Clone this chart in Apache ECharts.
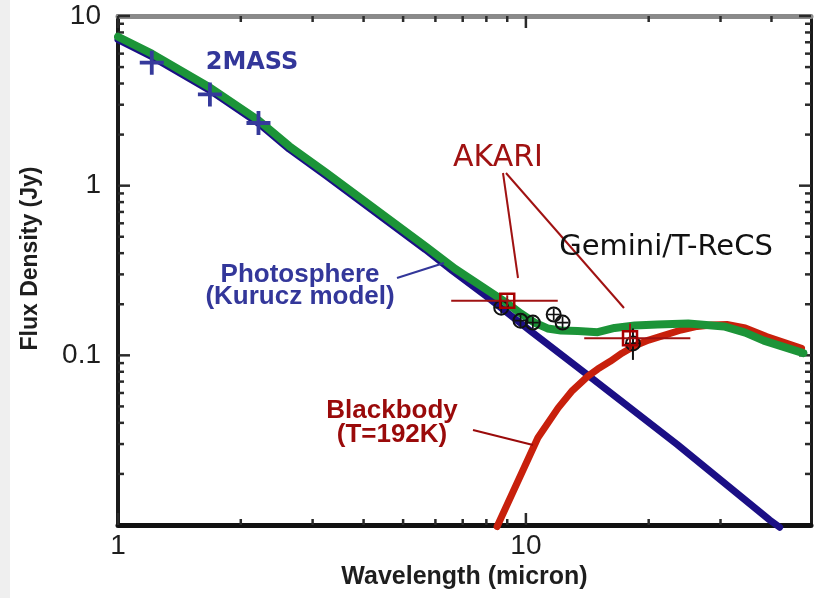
<!DOCTYPE html>
<html>
<head>
<meta charset="utf-8">
<script src="https://cdn.jsdelivr.net/npm/echarts@6/dist/echarts.min.js"></script>
<style>
  html, body { margin: 0; padding: 0; background: #fff; }
  #chart { width: 814px; height: 598px; }
</style>
</head>
<body>
<div id="chart"></div>
<script>
// Spectral energy distribution: wavelength (micron) vs flux density (Jy), log-log.

// Kurucz photosphere model
const photosphereModel = [
  [1.0, 7.25], [1.21, 5.76], [1.68, 3.64], [2.21, 2.33], [2.63, 1.64], [3.24, 1.14],
  [5.67, 0.42], [6.6, 0.315], [8.0, 0.223], [10.3, 0.138], [14.2, 0.0764],
  [23.5, 0.0298], [39.6, 0.0107], [41.9, 0.0097]
];
// Photosphere + 192 K blackbody
const totalModel = [
  [1.0, 7.55], [1.21, 6.0], [1.68, 3.79], [2.21, 2.43], [2.63, 1.71], [3.24, 1.19],
  [5.67, 0.44], [6.71, 0.323], [8.89, 0.207], [9.73, 0.176], [10.5, 0.156], [11.3, 0.144],
  [12.2, 0.140], [13.4, 0.139], [15.0, 0.137], [16.5, 0.145], [18.5, 0.150],
  [21.0, 0.152], [25.0, 0.154], [30.6, 0.148], [34.5, 0.136], [38.3, 0.122], [47.9, 0.103]
];
// Blackbody excess, T = 192 K
const blackbody192K = [
  [8.5, 0.0098], [10.7, 0.0327], [12.0, 0.049], [13.0, 0.062], [14.2, 0.0754], [15.0, 0.083],
  [16.1, 0.0922], [17.2, 0.103], [18.5, 0.114], [20.0, 0.123], [21.8, 0.131], [24.0, 0.141],
  [26.3, 0.148], [28.5, 0.151], [31.1, 0.152], [34.5, 0.145], [38.9, 0.129], [47.4, 0.110]
];

// Photometry
const twoMass = [[1.21, 5.31], [1.68, 3.45], [2.21, 2.34]];
const geminiTReCS = [[8.7, 0.191], [9.7, 0.160], [10.4, 0.156], [11.7, 0.174], [12.3, 0.156], [18.3, 0.1175]];
const geminiErrWave = [18.3];
const geminiErrFlux = [[0.094, 0.144]];
const akari = [[9.0, 0.21], [18.0, 0.126]];
const akariBand = [[6.56, 11.97], [13.9, 25.3]];
const akariFluxErr = [[0.195, 0.226], [0.107, 0.154]];

// Axis ticks and labels
const xTickLabels = [1, 10];
const yTickLabels = [0.1, 1, 10];
const xMajorTicks = [1, 10];
const xMinorTicks = [2, 3, 4, 5, 6, 7, 8, 9, 20, 30, 40];
const yMajorTicks = [0.1, 1, 10];
const yMinorTicks = [0.02, 0.03, 0.04, 0.05, 0.06, 0.07, 0.08, 0.09,
                     0.2, 0.3, 0.4, 0.5, 0.6, 0.7, 0.8, 0.9,
                     2, 3, 4, 5, 6, 7, 8, 9];

const GREEN = '#1c9438', NAVY = '#1b0f85', RED = '#c8200c';
const DARKRED = '#a01212', TEXTBLUE = '#33379a';

function matchTick(v, list) {
  return list.find(t => Math.abs(Math.log10(v) - Math.log10(t)) < 1e-6);
}

// Tick marks on all four sides of the frame, pointing inward
function xTickRenderer(len) {
  return function (params, api) {
    const cs = params.coordSys;
    const px = api.coord([api.value(0), 1])[0];
    const st = { stroke: '#2a2a2a', lineWidth: 2.5 };
    return { type: 'group', children: [
      { type: 'line', shape: { x1: px, y1: cs.y + cs.height, x2: px, y2: cs.y + cs.height - len }, style: st },
      { type: 'line', shape: { x1: px, y1: cs.y, x2: px, y2: cs.y + len }, style: st }
    ]};
  };
}
function yTickRenderer(len) {
  return function (params, api) {
    const cs = params.coordSys;
    const py = api.coord([1, api.value(1)])[1];
    const st = { stroke: '#2a2a2a', lineWidth: 2.5 };
    return { type: 'group', children: [
      { type: 'line', shape: { x1: cs.x, y1: py, x2: cs.x + len, y2: py }, style: st },
      { type: 'line', shape: { x1: cs.x + cs.width, y1: py, x2: cs.x + cs.width - len, y2: py }, style: st }
    ]};
  };
}
function errorBarRenderer(color) {
  return function (params, api) {
    const x = api.value(0), y = api.value(1);
    const l = api.coord([api.value(2), y]);
    const r = api.coord([api.value(3), y]);
    const lo = api.coord([x, api.value(4)]);
    const hi = api.coord([x, api.value(5)]);
    const st = { stroke: color, lineWidth: 2 };
    return { type: 'group', children: [
      { type: 'line', shape: { x1: l[0], y1: l[1], x2: r[0], y2: r[1] }, style: st },
      { type: 'line', shape: { x1: lo[0], y1: lo[1], x2: hi[0], y2: hi[1] }, style: st }
    ]};
  };
}

const akariErrData = akari.map((p, i) => [p[0], p[1], akariBand[i][0], akariBand[i][1], akariFluxErr[i][0], akariFluxErr[i][1]]);
const geminiErrData = geminiErrWave.map((w, i) => {
  const pt = geminiTReCS.find(p => p[0] === w);
  return [w, pt[1], w, w, geminiErrFlux[i][0], geminiErrFlux[i][1]];
});

const PLUS_THICK = 'path://M-1.9,-12H1.9V-1.9H12V1.9H1.9V12H-1.9V1.9H-12V-1.9H-1.9Z';
const PLUS_THIN = 'path://M-0.85,-6H0.85V-0.85H6V0.85H0.85V6H-0.85V0.85H-6V-0.85H-0.85Z';

const axisFont = { fontFamily: 'Liberation Sans', fontSize: 28, color: '#1e1e1e' };

const option = {
  animation: false,
  backgroundColor: '#ffffff',
  grid: { left: 118, right: 1, top: 16, bottom: 73, containLabel: false },
  xAxis: [
    {
      type: 'log', logBase: 10, min: 1, max: 50, position: 'bottom',
      name: 'Wavelength (micron)', nameLocation: 'middle', nameGap: 39,
      nameTextStyle: { fontFamily: 'Liberation Sans', fontSize: 25, fontWeight: 'bold', color: '#1e1e1e' },
      axisLine: { show: true, lineStyle: { color: '#111', width: 5 } },
      axisTick: { show: false }, splitLine: { show: false }, minorTick: { show: false },
      axisLabel: Object.assign({ margin: 7, formatter: v => { const t = matchTick(v, xTickLabels); return t !== undefined ? String(t) : ''; } }, axisFont)
    },
    {
      type: 'log', logBase: 10, min: 1, max: 50, position: 'top',
      axisLine: { show: true, lineStyle: { color: '#8a8a8a', width: 5 } },
      axisTick: { show: false }, axisLabel: { show: false }, splitLine: { show: false }
    }
  ],
  yAxis: [
    {
      type: 'log', logBase: 10, min: 0.01, max: 10, position: 'left',
      name: 'Flux Density (Jy)', nameLocation: 'middle', nameGap: 76, nameRotate: 90,
      nameTextStyle: { fontFamily: 'Liberation Sans', fontSize: 23, fontWeight: 'bold', color: '#1e1e1e', padding: [0, 0, 0, 24] },
      axisLine: { show: true, lineStyle: { color: '#1a1a1a', width: 4 } },
      axisTick: { show: false }, splitLine: { show: false },
      axisLabel: Object.assign({ margin: 17, formatter: v => { const t = matchTick(v, yTickLabels); return t !== undefined ? String(t) : ''; } }, axisFont)
    },
    {
      type: 'log', logBase: 10, min: 0.01, max: 10, position: 'right',
      axisLine: { show: true, lineStyle: { color: '#1a1a1a', width: 3 } },
      axisTick: { show: false }, axisLabel: { show: false }, splitLine: { show: false }
    }
  ],
  series: [
    { type: 'custom', name: 'x minor ticks', renderItem: xTickRenderer(6), data: xMinorTicks.map(v => [v, 1]), encode: { x: 0, y: 1 }, silent: true, z: 5 },
    { type: 'custom', name: 'x major ticks', renderItem: xTickRenderer(12), data: xMajorTicks.map(v => [v, 1]), encode: { x: 0, y: 1 }, silent: true, z: 5 },
    { type: 'custom', name: 'y minor ticks', renderItem: yTickRenderer(6), data: yMinorTicks.map(v => [1, v]), encode: { x: 0, y: 1 }, silent: true, z: 5 },
    { type: 'custom', name: 'y major ticks', renderItem: yTickRenderer(12), data: yMajorTicks.map(v => [1, v]), encode: { x: 0, y: 1 }, silent: true, z: 5 },

    { type: 'line', name: 'Photosphere', data: photosphereModel, showSymbol: false, smooth: false, clip: false,
      lineStyle: { color: NAVY, width: 7, cap: 'round', join: 'round' }, z: 6, silent: true },
    { type: 'line', name: 'Blackbody', data: blackbody192K, showSymbol: false, smooth: false, clip: false,
      lineStyle: { color: RED, width: 7, cap: 'round', join: 'round' }, z: 7, silent: true },
    { type: 'line', name: 'Total', data: totalModel, showSymbol: false, smooth: false,
      lineStyle: { color: GREEN, width: 8, cap: 'round', join: 'round' }, z: 8, silent: true },

    { type: 'scatter', name: '2MASS', data: twoMass, symbol: PLUS_THICK, symbolSize: 24,
      itemStyle: { color: '#35399b', opacity: 1 }, z: 10, silent: true },

    { type: 'custom', name: 'Gemini error', renderItem: errorBarRenderer('#111'), data: geminiErrData,
      encode: { x: 0, y: 1 }, z: 11, silent: true },
    { type: 'scatter', name: 'Gemini/T-ReCS', data: geminiTReCS, symbol: 'circle', symbolSize: 14,
      itemStyle: { color: 'rgba(0,0,0,0)', borderColor: '#111', borderWidth: 2, opacity: 1 }, z: 12, silent: true },
    { type: 'scatter', name: 'Gemini/T-ReCS cross', data: geminiTReCS, symbol: PLUS_THIN, symbolSize: 12,
      itemStyle: { color: '#111', opacity: 1 }, z: 12, silent: true },

    { type: 'custom', name: 'AKARI band', renderItem: errorBarRenderer(DARKRED), data: akariErrData,
      encode: { x: 0, y: 1 }, z: 13, silent: true },
    { type: 'scatter', name: 'AKARI', data: akari, symbol: 'rect', symbolSize: 14,
      itemStyle: { color: 'rgba(0,0,0,0)', borderColor: '#a80000', borderWidth: 2.5, opacity: 1 }, z: 14, silent: true }
  ],
  graphic: [
    { type: 'rect', shape: { x: 0, y: 0, width: 10, height: 598 }, style: { fill: '#efefef' }, z: -1 },

    { type: 'text', x: 252, y: 63, z: 20, style: { text: '2MASS', fill: TEXTBLUE, font: 'bold 24px "DejaVu Sans"', align: 'center', verticalAlign: 'middle' } },

    { type: 'text', x: 300, y: 286, z: 20, style: { text: 'Photosphere\n(Kurucz model)', fill: TEXTBLUE, font: 'bold 26px "Liberation Sans"', align: 'center', verticalAlign: 'middle', lineHeight: 22 } },
    { type: 'line', z: 20, shape: { x1: 397, y1: 278, x2: 444, y2: 263 }, style: { stroke: TEXTBLUE, lineWidth: 2 } },

    { type: 'text', x: 392, y: 423, z: 20, style: { text: 'Blackbody\n(T=192K)', fill: '#9a0a0a', font: 'bold 26px "Liberation Sans"', align: 'center', verticalAlign: 'middle', lineHeight: 24 } },
    { type: 'line', z: 20, shape: { x1: 473, y1: 430, x2: 533, y2: 445 }, style: { stroke: '#9a0a0a', lineWidth: 2 } },

    { type: 'text', x: 498, y: 158, z: 20, style: { text: 'AKARI', fill: DARKRED, font: '30px "DejaVu Sans"', align: 'center', verticalAlign: 'middle' } },
    { type: 'line', z: 20, shape: { x1: 503, y1: 173, x2: 518, y2: 278 }, style: { stroke: DARKRED, lineWidth: 2 } },
    { type: 'line', z: 20, shape: { x1: 506, y1: 173, x2: 624, y2: 308 }, style: { stroke: DARKRED, lineWidth: 2 } },

    { type: 'text', x: 666, y: 247, z: 20, style: { text: 'Gemini/T-ReCS', fill: '#111', font: '29px "DejaVu Sans"', align: 'center', verticalAlign: 'middle' } }
  ]
};

const chart = echarts.init(document.getElementById('chart'), null, { renderer: 'canvas' });
chart.setOption(option);
</script>
</body>
</html>
